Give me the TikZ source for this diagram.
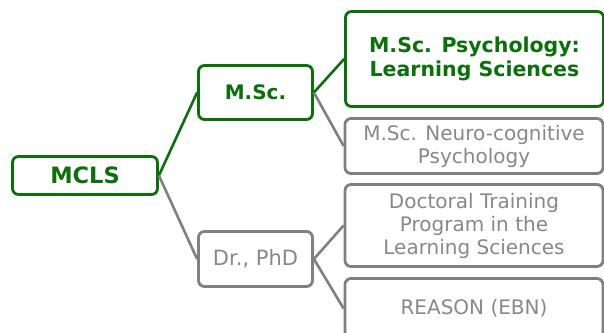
\documentclass[tikz,border=0pt]{standalone}
\usepackage{fontspec}
\setmainfont{DejaVu Sans}
\definecolor{grn}{RGB}{10,112,10}
\definecolor{gry}{RGB}{128,128,128}
\definecolor{gtxt}{RGB}{136,136,136}
\begin{document}
\begin{tikzpicture}[x=1pt,y=-1pt,
  box/.style={draw, line width=2.8pt, rounded corners=6pt, fill=white, inner sep=0pt, align=center},
  gbox/.style={box, draw=grn, text=grn, font=\bfseries\fontsize{20}{24}\selectfont},
  ybox/.style={box, draw=gry, text=gtxt, font=\fontsize{20}{23}\selectfont},
  gline/.style={draw=grn, line width=2.6pt},
  yline/.style={draw=gry, line width=2.6pt}]
\useasboundingbox (0,0) rectangle (604,332);
\node[gbox, minimum width=145pt, minimum height=38pt, font=\bfseries\fontsize{22.5}{26}\selectfont] (mcls) at (85,175.5) {MCLS};
\node[gbox, minimum width=114pt, minimum height=54pt] (msc) at (255.5,92.5) {M.Sc.};
\node[ybox, minimum width=114pt, minimum height=55pt, font=\fontsize{21}{24}\selectfont] (phd) at (255.5,259) {Dr., PhD};
\node[gbox, minimum width=258pt, minimum height=95pt, font=\bfseries\fontsize{20.5}{24}\selectfont] (psy) at (474.5,59) {M.Sc. Psychology:\\Learning Sciences};
\node[ybox, minimum width=258pt, minimum height=55pt] (neuro) at (474,146) {M.Sc. Neuro-cognitive\\Psychology};
\node[ybox, minimum width=258pt, minimum height=82pt] (doc) at (474,225.5) {Doctoral Training\\Program in the\\Learning Sciences};
\node[ybox, minimum width=258pt, minimum height=60pt] (rea) at (474,308.5) {REASON (EBN)};
\draw[gline] (mcls.east) -- (msc.west);
\draw[yline] (mcls.east) -- (phd.west);
\draw[gline] (msc.east) -- (psy.west);
\draw[yline] (msc.east) -- (neuro.west);
\draw[yline] (phd.east) -- (doc.west);
\draw[yline] (phd.east) -- (rea.west);
\end{tikzpicture}
\end{document}
